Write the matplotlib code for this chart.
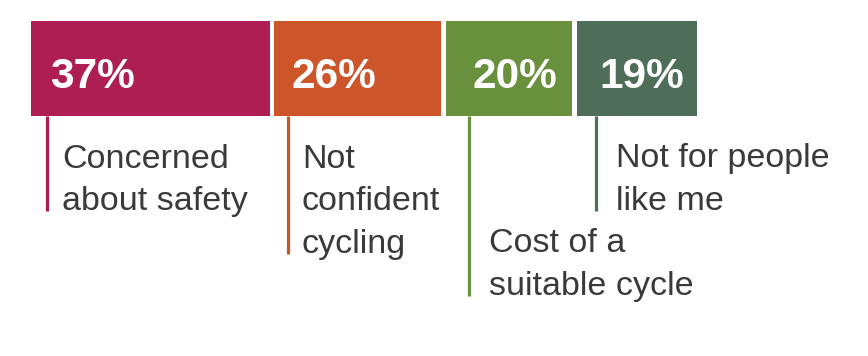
import matplotlib

matplotlib.use("Agg")
import matplotlib.pyplot as plt
import numpy as np

# data
shares = [37, 26, 20, 19]
share_labels = ["37%", "26%", "20%", "19%"]
reasons = [
    ["Concerned", "about safety"],
    ["Not", "confident", "cycling"],
    ["Cost of a", "suitable cycle"],
    ["Not for people", "like me"],
]
colors = ["#AE1E53", "#CC5529", "#69903D", "#4E6E59"]

# layout (pixels)
W, H = 868, 356
PX_PER_PCT = 6.58
LEFT_PX = 31
GAP_PX = 4.7
BAR_TOP, BAR_BOTTOM = 21, 115.5
PCT_OFFSET_PX = [19, 17, 27, 22]      # percent label x offset within bar
TEXT_OFFSET_PX = [16, 14, 20, 20]     # reason text x offset from leader line
LABEL_START_ROW = [0, 0, 2, 0]        # staggered rows for reason text
FIRST_BASELINE = 167.5
LINE_STEP = 42.5

fig = plt.figure(figsize=(W / 100, H / 100), dpi=100)
ax = fig.add_axes([0, 0, 1, 1])
ax.set_xlim(-LEFT_PX / PX_PER_PCT, (W - LEFT_PX) / PX_PER_PCT)
ax.set_ylim(H, 0)
ax.axis("off")

px = 1 / PX_PER_PCT
lefts = np.concatenate([[0], np.cumsum(shares)[:-1]])
ax.barh(
    (BAR_TOP + BAR_BOTTOM) / 2,
    np.array(shares) - GAP_PX * px,
    left=lefts,
    height=BAR_BOTTOM - BAR_TOP,
    color=colors,
)

for i, (left, lab, lines, col) in enumerate(zip(lefts, share_labels, reasons, colors)):
    tx = left + PCT_OFFSET_PX[i] * px
    ax.text(tx, 87.5, lab, color="white", fontsize=30.5, fontweight="bold",
            family="Liberation Sans", ha="left", va="baseline")

    lx = tx - 3.5 * px
    first = FIRST_BASELINE + LABEL_START_ROW[i] * LINE_STEP
    last = first + (len(lines) - 1) * LINE_STEP
    ax.plot([lx, lx], [BAR_BOTTOM, last + 1], color=col, linewidth=2.3,
            solid_capstyle="butt")
    for j, line in enumerate(lines):
        ax.text(lx + TEXT_OFFSET_PX[i] * px, first + j * LINE_STEP, line,
                color="#3A3A3A", fontsize=24.5, family="Liberation Sans",
                ha="left", va="baseline")

fig.savefig("out.png", dpi=100)
